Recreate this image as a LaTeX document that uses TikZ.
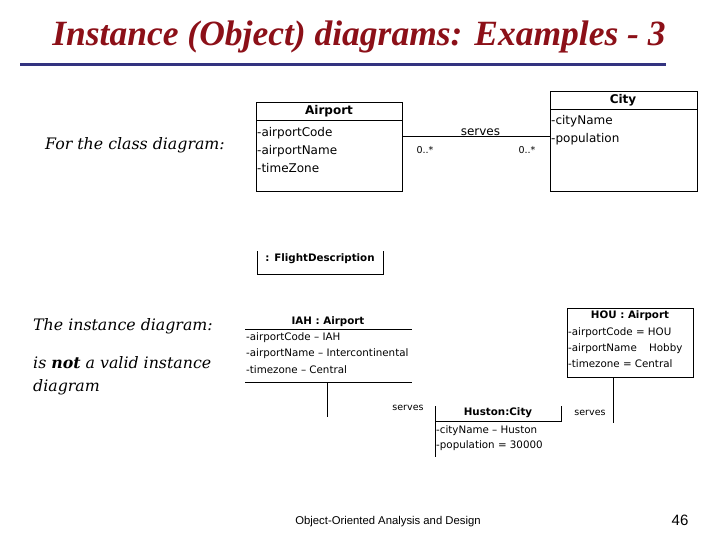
\documentclass[tikz,border=0pt]{standalone}
\usepackage{fontspec}
\setmainfont{DejaVu Serif}
\setsansfont{DejaVu Sans}
\newfontfamily\titlefont{Liberation Serif}
\newfontfamily\footfont{Liberation Sans}
\usetikzlibrary{positioning}
\definecolor{titlered}{RGB}{140,16,24}
\definecolor{ruleblue}{RGB}{51,51,128}

\begin{document}
\begin{tikzpicture}[x=1pt,y=-1pt,
  classattr/.style={anchor=west,inner sep=0pt,font=\sffamily\fontsize{12}{14}\selectfont},
  classhead/.style={inner sep=0pt,font=\sffamily\bfseries\fontsize{12}{14}\selectfont},
  objattr/.style={anchor=west,inner sep=0pt,font=\sffamily\fontsize{10.3}{12}\selectfont},
  objhead/.style={inner sep=0pt,font=\sffamily\bfseries\fontsize{10.3}{12}\selectfont},
  linklabel/.style={inner sep=0pt,font=\sffamily\fontsize{9.5}{11}\selectfont},
  remark/.style={anchor=west,inner sep=0pt,font=\itshape\fontsize{15.8}{19}\selectfont},
  umlline/.style={line width=1pt,black}]
  \useasboundingbox (0,0) rectangle (720,540);

  % title
  \node[inner sep=0pt,anchor=base,text=titlered,font=\titlefont\bfseries\itshape\fontsize{35.5}{40}\selectfont] (title) at (359,46) {Instance (Object) diagrams: Examples - 3};
  \coordinate (RuleL) at (20,65);
  \coordinate (RuleR) at (666,65);
  \draw[ruleblue,line width=3pt] (RuleL) -- (RuleR);

  % remarks on the left
  \node[remark] (forclass) at (45,145) {For the class diagram:};
  \node[remark] (theinst) at (33,326) {The instance diagram:};
  \node[remark] (isnot) at (33,363) {is \textbf{not} a valid instance};
  \node[remark] (isnotb) at (33,387) {diagram};

  % class diagram
  \draw[umlline] (256,103) rectangle (402,192);
  \draw[umlline] (256,121) -- (402,121);
  \node[classhead] (airport) at (329,111) {Airport};
  \node[classattr] (aCode) at (257,133) {-airportCode};
  \node[classattr] (aName) at (257,151) {-airportName};
  \node[classattr] (aZone) at (257,168) {-timeZone};

  \draw[umlline] (550,92) rectangle (697,192);
  \draw[umlline] (550,110) -- (697,110);
  \node[classhead] (city) at (623,100) {City};
  \node[classattr] (cName) at (551,121) {-cityName};
  \node[classattr] (cPop) at (551,139) {-population};

  \coordinate (ServesA) at (402,137);
  \coordinate (ServesC) at (550,137);
  \draw[umlline] (ServesA) -- (ServesC) node[pos=0.53,anchor=south,inner sep=1pt,font=\sffamily\fontsize{12}{14}\selectfont] (serves) {serves};
  \node[linklabel] (multA) at (425,150) {0..*};
  \node[linklabel] (multC) at (527,150) {0..*};

  % flight description
  \draw[umlline] (257,251) -- (257,274) -- (383,274) -- (383,251);
  \node[objhead] (flight) at (320,259) {: FlightDescription};

  % object IAH
  \coordinate (IAHbot) at (327,382);
  \coordinate (IAHlink) at (327,417);
  \draw[umlline] (245,329) -- (412,329);
  \draw[umlline] (245,382) -- (412,382);
  \node[objhead] (iah) at (328,322) {IAH : Airport};
  \node[objattr] (iahCode) at (246,338) {-airportCode – IAH};
  \node[objattr] (iahName) at (246,354) {-airportName – Intercontinental};
  \node[objattr] (iahZone) at (246,370) {-timezone – Central};
  \draw[umlline] (IAHbot) -- (IAHlink);

  % object Huston
  \draw[umlline] (435,406) -- (435,457);
  \draw[umlline] (561,406) -- (561,422);
  \draw[umlline] (435,421) -- (561,421);
  \node[objhead] (huston) at (498,413) {Huston:City};
  \node[objattr] (hName) at (436,431) {-cityName – Huston};
  \node[objattr] (hPop) at (436,446) {-population = 30000};
  \node[linklabel] (servesL) at (408,408) {serves};
  \node[linklabel] (servesR) at (590,413) {serves};

  % object HOU
  \coordinate (HOUbot) at (613,377);
  \coordinate (HOUlink) at (613,423);
  \draw[umlline] (567,308) rectangle (693,377);
  \node[objhead] (hou) at (630,316) {HOU : Airport};
  \node[objattr] (houCode) at (568,333) {-airportCode = HOU};
  \node[objattr] (houName) at (568,349) {-airportName\hspace{1.2em}Hobby};
  \node[objattr] (houZone) at (568,364) {-timezone = Central};
  \draw[umlline] (HOUbot) -- (HOUlink);

  % footer
  \node[inner sep=0pt,font=\footfont\fontsize{11.3}{13}\selectfont] (footer) at (388,522) {Object-Oriented Analysis and Design};
  \node[inner sep=0pt,font=\footfont\fontsize{15}{17}\selectfont] (pagenum) at (680,520) {46};
\end{tikzpicture}
\end{document}
